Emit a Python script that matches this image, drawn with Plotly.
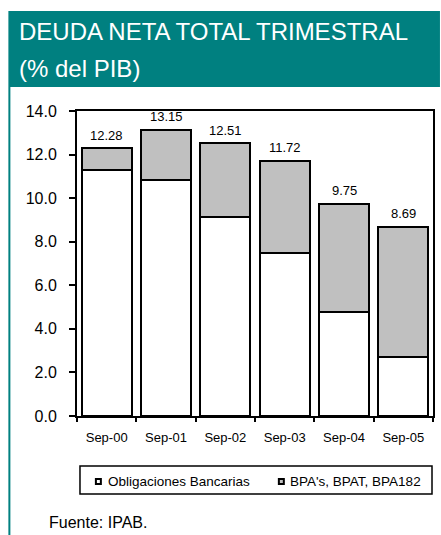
import plotly.graph_objects as go

categories = ["Sep-00", "Sep-01", "Sep-02", "Sep-03", "Sep-04", "Sep-05"]
obligaciones = [11.28, 10.83, 9.15, 7.50, 4.76, 2.72]
totals = [12.28, 13.15, 12.51, 11.72, 9.75, 8.69]
bpas = [round(t - o, 2) for t, o in zip(totals, obligaciones)]
total_labels = ["12.28", "13.15", "12.51", "11.72", "9.75", "8.69"]

FONT = "Arial, 'Liberation Sans', sans-serif"
TEAL = "#008080"
GRAY = "#c0c0c0"

# plot-area geometry (pixels) used to place decorations in paper coordinates
L, R, T, B = 77, 6, 111, 119
W, H = 441, 535
PW, PH = W - L - R, H - T - B


def px(x):
    return (x - L) / PW


def py(y):
    return (H - B - y) / PH


fig = go.Figure()
fig.add_trace(go.Bar(
    x=categories, y=obligaciones, name="Obligaciones Bancarias",
    marker=dict(color="white", line=dict(color="black", width=2)),
    showlegend=False, hoverinfo="x+y+name"))
fig.add_trace(go.Bar(
    x=categories, y=bpas, name="BPA's, BPAT, BPA182",
    marker=dict(color=GRAY, line=dict(color="black", width=2)),
    showlegend=False, hoverinfo="x+y+name"))

annotations = []
for c, t, lab in zip(categories, totals, total_labels):
    annotations.append(dict(x=c, y=t, text=lab, xref="x", yref="y",
                            showarrow=False, yanchor="middle", yshift=13,
                            font=dict(family=FONT, size=13, color="black")))

# header texts
annotations.append(dict(x=px(17), y=py(32), xref="paper", yref="paper",
                        text="DEUDA NETA TOTAL TRIMESTRAL", showarrow=False,
                        xanchor="left", yanchor="middle",
                        font=dict(family=FONT, size=24, color="white")))
annotations.append(dict(x=px(17), y=py(69), xref="paper", yref="paper",
                        text="(% del PIB)", showarrow=False,
                        xanchor="left", yanchor="middle",
                        font=dict(family=FONT, size=24, color="white")))
# legend texts
annotations.append(dict(x=px(106), y=py(481.5), xref="paper", yref="paper",
                        text="Obligaciones Bancarias", showarrow=False,
                        xanchor="left", yanchor="middle",
                        font=dict(family=FONT, size=13.5, color="black")))
annotations.append(dict(x=px(289), y=py(481.5), xref="paper", yref="paper",
                        text="BPA's, BPAT, BPA182", showarrow=False,
                        xanchor="left", yanchor="middle",
                        font=dict(family=FONT, size=13.5, color="black")))
# source
annotations.append(dict(x=px(47), y=py(522), xref="paper", yref="paper",
                        text="Fuente: IPAB.", showarrow=False,
                        xanchor="left", yanchor="middle",
                        font=dict(family=FONT, size=16, color="black")))

shapes = [
    dict(type="rect", xref="paper", yref="paper", x0=px(8), x1=px(442),
         y0=py(87), y1=py(11), fillcolor=TEAL, line=dict(width=0), layer="below"),
    dict(type="line", xref="paper", yref="paper", x0=px(9), x1=px(9),
         y0=py(87), y1=py(536), line=dict(color=TEAL, width=2)),
    dict(type="rect", xref="paper", yref="paper", x0=px(80), x1=px(434),
         y0=py(494), y1=py(466), line=dict(color="black", width=1.5),
         fillcolor="rgba(0,0,0,0)"),
    dict(type="rect", xref="paper", yref="paper", x0=px(96), x1=px(101),
         y0=py(484), y1=py(479), line=dict(color="black", width=2),
         fillcolor="white"),
    dict(type="rect", xref="paper", yref="paper", x0=px(280), x1=px(285),
         y0=py(484), y1=py(479), line=dict(color="black", width=2),
         fillcolor=GRAY),
]

fig.update_layout(
    width=W, height=H,
    margin=dict(l=L, r=R, t=T, b=B, pad=0),
    paper_bgcolor="white", plot_bgcolor="white",
    barmode="stack", bargap=0.16,
    font=dict(family=FONT, color="black"),
    annotations=annotations, shapes=shapes,
    showlegend=False,
)
fig.update_yaxes(range=[0, 14], dtick=2, tickformat=".1f", ticks="outside",
                 ticklen=6, tickwidth=1.5, tickcolor="black",
                 showline=True, linecolor="black", linewidth=2, mirror=True,
                 showgrid=False, zeroline=False,
                 tickfont=dict(family=FONT, size=16, color="black"),
                 ticklabelstandoff=9)
fig.update_xaxes(type="category", tickson="boundaries", ticks="outside",
                 ticklen=4, tickwidth=1.5, tickcolor="black",
                 showline=True, linecolor="black", linewidth=2, mirror=True,
                 showgrid=False,
                 tickfont=dict(family=FONT, size=13, color="black"),
                 ticklabelstandoff=8)

fig.write_html("out.html",
               config={"displayModeBar": False},
               post_script="document.body.style.margin='0';"
                           "document.body.style.overflow='hidden';")
